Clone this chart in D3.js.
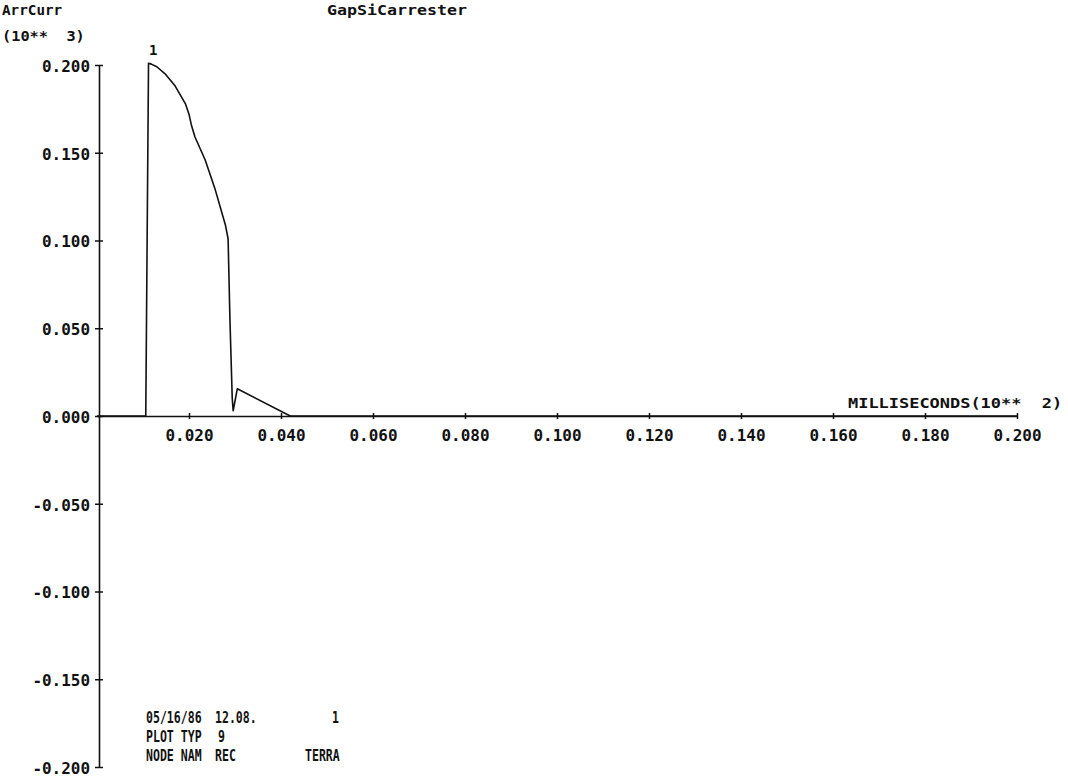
<!DOCTYPE html>
<html><head><meta charset="utf-8">
<script src="https://cdn.jsdelivr.net/npm/d3@7"></script>
<style>
body{margin:0;background:#fff;}
text{font-family:"DejaVu Sans Mono",monospace;font-weight:bold;fill:#111;}
</style></head>
<body><svg id="c" width="1068" height="780"></svg>
<script>
// time in ms (x 10**2), current (x 10**3)
const timeVals = [0, 0.0106, 0.0112, 0.0118, 0.0130, 0.0148, 0.0170, 0.0192, 0.0200, 0.0205, 0.0213, 0.0235, 0.0257, 0.0279, 0.0285, 0.0289, 0.0294, 0.0296, 0.0305, 0.0420, 0.2000];
const currVals = [0, 0, 0.201, 0.2005, 0.199, 0.195, 0.188, 0.178, 0.172, 0.166, 0.159, 0.146, 0.129, 0.109, 0.101, 0.055, 0.010, 0.003, 0.0155, 0, 0];
const xTicks = [0.02, 0.04, 0.06, 0.08, 0.10, 0.12, 0.14, 0.16, 0.18, 0.20];
const yTicks = [0.2, 0.15, 0.1, 0.05, 0, -0.05, -0.1, -0.15, -0.2];
const yTickLabels = ["0.200","0.150","0.100","0.050","0.000","-0.050","-0.100","-0.150","-0.200"];
const xTickLabels = ["0.020","0.040","0.060","0.080","0.100","0.120","0.140","0.160","0.180","0.200"];
const infoRows = [["05/16/86","12.08.","1"],["PLOT TYP","9",""],["NODE NAM","REC","TERRA"]];

const svg = d3.select("#c");
const x = d3.scaleLinear().domain([0, 0.2]).range([97, 1017]);
const y = d3.scaleLinear().domain([-0.2, 0.2]).range([767, 65]);

function fit(sel, perChar){
  sel.each(function(){
    const t = d3.select(this), s = t.text();
    t.attr("textLength", s.length*perChar).attr("lengthAdjust","spacingAndGlyphs");
  });
}

// y axis
const yAx = svg.append("g").attr("transform", `translate(${x(0)+2},0)`)
  .call(d3.axisLeft(y).tickValues(yTicks).tickSize(0).tickFormat((d,i)=>yTickLabels[i]));
yAx.select(".domain").attr("stroke","#111").attr("stroke-width",1.6);
yAx.selectAll(".tick line").remove();
yAx.selectAll(".tick").append("line").attr("x1",-4).attr("x2",4).attr("stroke","#111").attr("stroke-width",1.5);
yAx.selectAll(".tick text").attr("x",-9).attr("font-size",16).attr("font-family","DejaVu Sans Mono").attr("font-weight","bold").attr("fill","#111").attr("dy","0.4em");
fit(yAx.selectAll(".tick text"), 9.6);

// x axis
const xAx = svg.append("g").attr("transform", `translate(0,${y(0)})`)
  .call(d3.axisBottom(x).tickValues(xTicks).tickSize(0).tickFormat((d,i)=>xTickLabels[i]));
xAx.select(".domain").attr("stroke","#111").attr("stroke-width",1.6);
xAx.selectAll(".tick line").remove();
xAx.selectAll(".tick").append("line").attr("y1",-3).attr("y2",3).attr("stroke","#111").attr("stroke-width",1.5);
xAx.selectAll(".tick text").attr("y",14).attr("font-size",16).attr("font-family","DejaVu Sans Mono").attr("font-weight","bold").attr("fill","#111");
fit(xAx.selectAll(".tick text"), 9.6);

// curve
const pts = timeVals.map((t,i)=>[t,currVals[i]]);
svg.append("path").datum(pts)
  .attr("d", d3.line().x(d=>x(d[0])).y(d=>y(d[1])))
  .attr("fill","none").attr("stroke","#111").attr("stroke-width",1.6).attr("stroke-linejoin","round");

// curve label
svg.append("text").attr("x", x(0.0122)).attr("y", y(0.201)-8).attr("text-anchor","middle").attr("font-size",14).text("1");

// titles
const t1 = svg.append("text").attr("x",2).attr("y",15).attr("font-size",14).text("ArrCurr");
fit(t1, 8.6);
const t2 = svg.append("text").attr("x",2).attr("y",41).attr("font-size",14).attr("xml:space","preserve").text("(10**  3)");
fit(t2, 9.2);
const t3 = svg.append("text").attr("x",327).attr("y",15).attr("font-size",14).text("GapSiCarrester");
fit(t3, 10);
const t4 = svg.append("text").attr("x",848).attr("y",408).attr("font-size",14).attr("xml:space","preserve").text("MILLISECONDS(10**  2)");
fit(t4, 10.2);

// info block (condensed via horizontal scale)
const rowY = [723, 742, 761];
const colX = [[146,215,332],[146,218,0],[146,215,305]];
infoRows.forEach((row,r)=>{
  row.forEach((s,c)=>{
    if(!s) return;
    svg.append("text")
      .attr("transform", `translate(${colX[r][c]},${rowY[r]}) scale(0.77,1)`)
      .attr("font-size",15).text(s);
  });
});
</script></body></html>
